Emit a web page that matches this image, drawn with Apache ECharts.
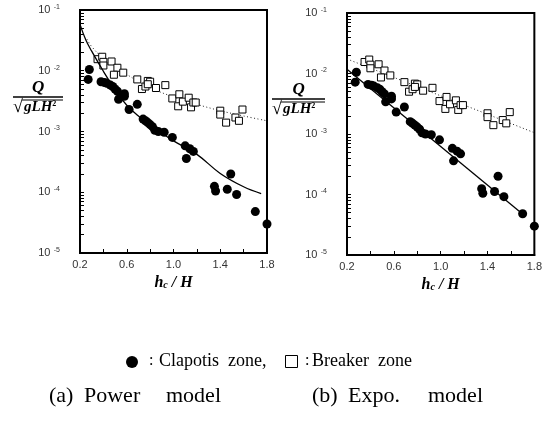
<!DOCTYPE html>
<html><head><meta charset="utf-8">
<script src="https://cdn.jsdelivr.net/npm/echarts@6/dist/echarts.min.js"></script>
<style>html,body{margin:0;padding:0;background:#fff}#c{width:545px;height:421px}</style>
</head><body><div id="c"></div>
<script>
// Clapotis zone (filled circles): h_c/H and Q/sqrt(gLH^2)
const clapX = [0.28,0.27,0.38,0.41,0.43,0.46,0.48,0.50,0.52,0.58,0.58,0.53,0.62,0.69,0.74,0.76,0.78,0.80,0.82,0.84,0.87,0.92,0.99,1.10,1.14,1.17,1.11,1.35,1.36,1.49,1.46,1.54,1.70,1.80];
const clapY = [0.0105,0.0072,0.0066,0.0064,0.0062,0.0058,0.0055,0.0050,0.0046,0.0042,0.0038,0.0034,0.0023,0.0028,0.0016,0.0015,0.0014,0.0013,0.0012,0.00105,0.0010,0.00097,0.0008,0.00058,0.00052,0.00047,0.00036,0.000125,0.000105,0.0002,0.000112,0.000092,0.000048,0.00003];
// Breaker zone (open squares)
const brkX = [0.35,0.39,0.40,0.40,0.47,0.52,0.49,0.57,0.69,0.73,0.76,0.78,0.80,0.78,0.85,0.93,0.99,1.05,1.04,1.08,1.13,1.15,1.17,1.19,1.40,1.40,1.45,1.53,1.56,1.59];
const brkY = [0.0155,0.0170,0.0140,0.0122,0.0142,0.0112,0.0086,0.0093,0.0072,0.0050,0.0055,0.0068,0.0066,0.0060,0.0052,0.0058,0.0035,0.0041,0.0026,0.0031,0.0036,0.0025,0.0030,0.0030,0.0022,0.0019,0.0014,0.0017,0.0015,0.0023];
// (a) Power model fitted curves
const powClapX = [0.2,0.25,0.3,0.4,0.5,0.6,0.7,0.8,0.9,1.0,1.2,1.4,1.6,1.75];
const powClapY = [0.058,0.032,0.021,0.0098,0.0049,0.0027,0.0018,0.00127,0.00094,0.0007,0.00042,0.000204,0.000123,0.000095];
const powBrkX = [0.26,0.3,0.4,0.6,0.8,1.0,1.2,1.4,1.6,1.8];
const powBrkY = [0.033,0.025,0.016,0.0087,0.0053,0.0037,0.0028,0.0022,0.0018,0.0015];
// (b) Exponential model fitted lines
const expClapX = [0.2,1.72];
const expClapY = [0.0118,0.000044];
const expBrkX = [0.2,1.8];
const expBrkY = [0.0174,0.00105];
// Axis ticks
const xTicks = [0.2,0.6,1.0,1.4,1.8];
const yDecades = [1e-5,1e-4,1e-3,1e-2,1e-1];
const legendWords = ['Clapotis  zone,', 'Breaker  zone'];
const captionA = ['(a)','Power','model'];
const captionB = ['(b)','Expo.','model'];

const zip = (a,b) => a.map((v,i)=>[v,b[i]]);
const minorY = [];
yDecades.slice(0,4).forEach(d => { for (let k=1;k<10;k++) minorY.push(+(d*k).toPrecision(3)); });
minorY.push(0.1);

const chart = echarts.init(document.getElementById('c'));
const serif = '"Liberation Serif","DejaVu Serif",serif';
const sans = '"Liberation Sans","DejaVu Sans",sans-serif';

function xAxis(i){
  return {
    type:'value', gridIndex:i, min:0.2, max:1.8, interval:0.2,
    axisLine:{lineStyle:{color:'#000',width:2}},
    axisTick:{inside:true,length:4,lineStyle:{color:'#000',width:1}},
    splitLine:{show:false},
    axisLabel:{color:'#333',fontFamily:sans,fontSize:11,margin:6,
      formatter:v => xTicks.some(t=>Math.abs(t-v)<1e-6) ? v.toFixed(1) : ''},
    name:'{i|h}{c|c}{i| / H}', nameLocation:'middle', nameGap:20,
    nameTextStyle:{rich:{
      i:{fontFamily:serif,fontStyle:'italic',fontWeight:'bold',fontSize:16,color:'#000'},
      c:{fontFamily:serif,fontStyle:'italic',fontWeight:'bold',fontSize:10,color:'#000',verticalAlign:'bottom',padding:[6,0,0,0]}
    }}
  };
}
function yAxis(i){
  return {
    type:'log', logBase:10, gridIndex:i, min:1e-5, max:0.1,
    axisLine:{lineStyle:{color:'#000',width:2}},
    axisTick:{inside:true,length:4,customValues:minorY,lineStyle:{color:'#000',width:1}},
    splitLine:{show:false},
    axisLabel:{customValues:yDecades, margin:20,
      formatter:v => '{n|10} {e|-' + Math.round(-Math.log10(v)) + '}',
      rich:{n:{fontFamily:sans,fontSize:11,color:'#333'},
            e:{fontFamily:sans,fontSize:7,color:'#333',verticalAlign:'top',padding:[0,0,6,0]}}}
  };
}
const circ = {symbol:'circle',symbolSize:9,itemStyle:{color:'#000',opacity:1}};
const sq = {symbol:'rect',symbolSize:7,itemStyle:{color:'#fff',borderColor:'#000',borderWidth:1,opacity:1}};

const series = [];
[0,1].forEach(i=>{
  series.push(Object.assign({type:'scatter',xAxisIndex:i,yAxisIndex:i,data:zip(brkX,brkY),z:3},sq));
  series.push(Object.assign({type:'scatter',xAxisIndex:i,yAxisIndex:i,data:zip(clapX,clapY),z:4},circ));
});
series.push({type:'line',xAxisIndex:0,yAxisIndex:0,data:zip(powClapX,powClapY),smooth:0.4,symbol:'none',lineStyle:{color:'#000',width:1.3},z:5});
series.push({type:'line',xAxisIndex:0,yAxisIndex:0,data:zip(powBrkX,powBrkY),smooth:0.4,symbol:'none',lineStyle:{color:'#222',width:1,type:[1,2.5]},z:2});
series.push({type:'line',xAxisIndex:1,yAxisIndex:1,data:zip(expClapX,expClapY),symbol:'none',lineStyle:{color:'#000',width:1.3},z:5});
series.push({type:'line',xAxisIndex:1,yAxisIndex:1,data:zip(expBrkX,expBrkY),symbol:'none',lineStyle:{color:'#222',width:1,type:[1,2.5]},z:2});

function yName(x0,x1,yl){
  const cx=(x0+x1)/2;
  return [
    {type:'text',left:cx-6,top:yl-18,style:{text:'Q',font:'italic bold 17px '+serif,fill:'#000'}},
    {type:'line',shape:{x1:x0,y1:yl,x2:x1,y2:yl},style:{stroke:'#000',lineWidth:1.5}},
    {type:'text',left:x0,top:yl+1,style:{text:'√',font:'18px '+serif,fill:'#000'}},
    {type:'line',shape:{x1:x0+9,y1:yl+3,x2:x1,y2:yl+3},style:{stroke:'#000',lineWidth:1}},
    {type:'text',left:x0+11,top:yl+3,style:{rich:{a:{font:'italic bold 15px '+serif,fill:'#000'},s:{font:'bold 8px '+serif,fill:'#000',verticalAlign:'top'}},text:'{a|gLH}{s|2}'}}
  ];
}
function words(list,xs,top,font){
  return list.map((w,k)=>({type:'text',left:xs[k],top:top,style:{text:w,font:font,fill:'#000'}}));
}

const graphic = [].concat(
  yName(13,63,97), yName(272,325,99),
  [
    {type:'circle',shape:{cx:132,cy:362,r:6},style:{fill:'#000'}},
    {type:'text',left:149,top:353,style:{text:':',font:'16px '+serif,fill:'#000'}},
    {type:'text',left:159,top:352,style:{text:legendWords[0],font:'18px '+serif,fill:'#000'}},
    {type:'rect',shape:{x:285.5,y:355.5,width:12,height:12},style:{fill:'#fff',stroke:'#000',lineWidth:1}},
    {type:'text',left:305,top:353,style:{text:':',font:'16px '+serif,fill:'#000'}},
    {type:'text',left:312,top:352,style:{text:legendWords[1],font:'18px '+serif,fill:'#000'}}
  ],
  words(captionA,[49,84,166],385,'22px '+serif),
  words(captionB,[312,348,428],385,'22px '+serif)
);

chart.setOption({
  animation:false,
  backgroundColor:'#fff',
  grid:[
    {left:80,top:10,width:187,height:243,show:true,borderColor:'#000',borderWidth:2,backgroundColor:'transparent'},
    {left:347,top:13,width:188,height:242,show:true,borderColor:'#000',borderWidth:2,backgroundColor:'transparent'}
  ],
  xAxis:[xAxis(0),xAxis(1)],
  yAxis:[yAxis(0),yAxis(1)],
  series:series,
  graphic:graphic
});
</script></body></html>
